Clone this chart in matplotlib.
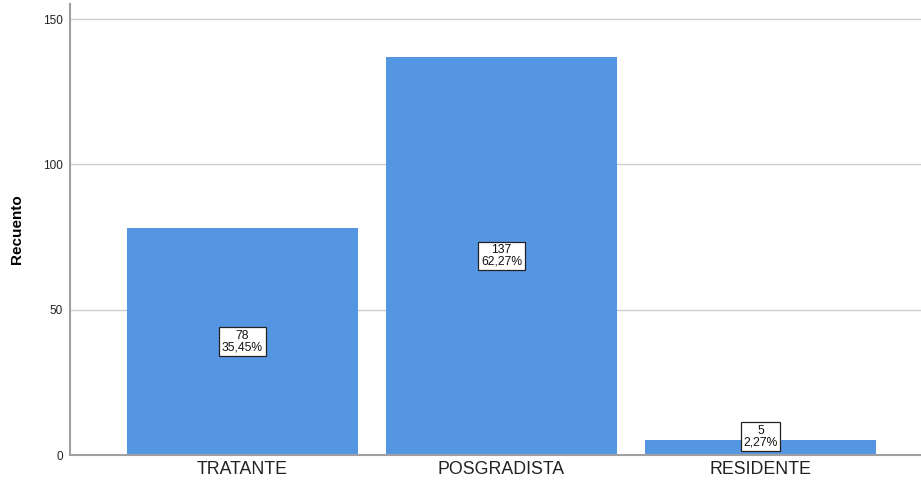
import matplotlib
matplotlib.use("Agg")
import matplotlib.pyplot as plt

plt.rcParams["font.family"] = ["Liberation Sans", "DejaVu Sans"]

categories = ["TRATANTE", "POSGRADISTA", "RESIDENTE"]
counts = [78, 137, 5]
percents = ["35,45%", "62,27%", "2,27%"]
yticks = [0, 50, 100, 150]

BAR = "#5596e3"
AXIS = "#a0a0a0"

fig = plt.figure(figsize=(9.21, 4.83), dpi=100)
ax = fig.add_axes([70 / 921, 28 / 483, 851 / 921, 451 / 483])

xs = list(range(len(categories)))
ax.bar(xs, counts, width=0.892, color=BAR, zorder=2)

for x, c, p in zip(xs, counts, percents):
    y = max(c / 2, 6.3)
    ax.text(x, y, f"{c}\n{p}", ha="center", va="center", fontsize=8.7,
            linespacing=0.95, zorder=3, color="#111111",
            bbox=dict(boxstyle="square,pad=0.22", fc="white", ec="#222222", lw=0.9))

ax.set_xlim(-0.666, 2.62)
ax.set_ylim(0, 155.2)
ax.set_xticks(xs)
ax.set_xticklabels(categories, fontsize=12.8, color="#222222")
ax.set_yticks(yticks)
ax.set_yticklabels([str(t) for t in yticks], fontsize=8.5, color="#222222")
ax.tick_params(axis="both", length=0)
ax.tick_params(axis="x", pad=4)
ax.tick_params(axis="y", pad=5)
ax.set_ylabel("Recuento", fontsize=11, fontweight="bold", labelpad=14)

ax.yaxis.grid(True, color="#cccccc", lw=1.0, zorder=0)
ax.set_axisbelow(True)
for side in ["top", "right"]:
    ax.spines[side].set_visible(False)
for side in ["left", "bottom"]:
    ax.spines[side].set_color(AXIS)
    ax.spines[side].set_linewidth(1.5)

fig.savefig("out.png", dpi=100)
